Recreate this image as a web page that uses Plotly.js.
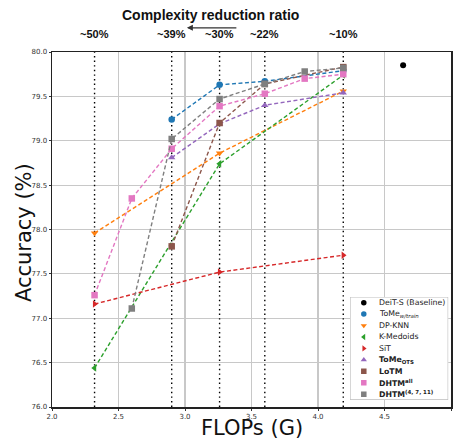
<!DOCTYPE html>
<html>
<head>
<meta charset="utf-8">
<script src="https://cdn.plot.ly/plotly-3.0.1.min.js"></script>
<style>html,body{margin:0;padding:0;background:#fff;}#chart{width:454px;height:439px;}</style>
</head>
<body>
<div id="chart"></div>
<script>
// ---- data ----
const ratioFlops = [2.32, 2.90, 3.26, 3.60, 4.19];
const ratioLabels = ['~50%', '~39%', '~30%', '~22%', '~10%'];

const deitX = [4.64];
const deitY = [79.85];

const tomeTrainX = [2.90, 3.26, 3.60, 4.19];
const tomeTrainY = [79.24, 79.63, 79.67, 79.79];

const dpknnX = [2.32, 3.26, 4.19];
const dpknnY = [77.96, 78.86, 79.56];

const kmedX = [2.32, 3.26, 4.19];
const kmedY = [76.44, 78.74, 79.74];

const sitX = [2.32, 3.26, 4.19];
const sitY = [77.16, 77.52, 77.71];

const tomeOtsX = [2.90, 3.26, 3.60, 4.19];
const tomeOtsY = [78.81, 79.19, 79.40, 79.54];

const lotmX = [2.90, 3.26, 3.60, 4.19];
const lotmY = [77.81, 79.20, 79.64, 79.83];

const dhtmAllX = [2.32, 2.60, 2.90, 3.26, 3.60, 3.90, 4.19];
const dhtmAllY = [77.26, 78.35, 78.91, 79.39, 79.53, 79.70, 79.75];

const dhtmSubX = [2.60, 2.90, 3.26, 3.60, 3.90, 4.19];
const dhtmSubY = [77.11, 79.02, 79.47, 79.64, 79.78, 79.82];

const seriesNames = ['DeiT-S (Baseline)', 'ToMe<sub><i>w/train</i></sub>', 'DP-KNN', 'K-Medoids', 'SiT',
  '<b>ToMe<sub>OTS</sub></b>', '<b>LoTM</b>', '<b>DHTM<sup>all</sup></b>', '<b>DHTM<sup>(4, 7, 11)</sup></b>'];

// ---- styles ----
const colors = ['#000000', '#1f77b4', '#ff7f0e', '#2ca02c', '#d62728', '#9467bd', '#8c564b', '#e377c2', '#7f7f7f'];
const symbols = ['circle', 'circle', 'triangle-down', 'triangle-left', 'triangle-right', 'triangle-up', 'square', 'square', 'square'];
const xs = [deitX, tomeTrainX, dpknnX, kmedX, sitX, tomeOtsX, lotmX, dhtmAllX, dhtmSubX];
const ys = [deitY, tomeTrainY, dpknnY, kmedY, sitY, tomeOtsY, lotmY, dhtmAllY, dhtmSubY];

const traces = [];
// dotted vertical reference lines
ratioFlops.forEach(f => {
  traces.push({x: [f, f], y: [76, 80], mode: 'lines', showlegend: false, hoverinfo: 'skip',
    line: {color: '#000', width: 1.4, dash: '1.4px,3.2px'}});
});
// data series
for (let i = 0; i < xs.length; i++) {
  traces.push({
    x: xs[i], y: ys[i],
    mode: i === 0 ? 'markers' : 'lines+markers',
    showlegend: false,
    line: {color: colors[i], width: 1.4, dash: '4px,2.5px'},
    marker: {color: colors[i], symbol: symbols[i], size: i === 0 ? 6 : 6.5}
  });
}

// custom compact legend on its own small axes (row index = series index)
const legendRows = seriesNames.map((_, i) => i);
traces.push({
  x: legendRows.map(() => 0.14), y: legendRows, xaxis: 'x2', yaxis: 'y2',
  mode: 'markers', showlegend: false, hoverinfo: 'skip',
  marker: {color: colors, symbol: symbols, size: 5.5}
});

const annotations = [];
ratioFlops.forEach((f, i) => {
  annotations.push({x: f, xref: 'x', y: 1.028, yref: 'paper', text: '<b>' + ratioLabels[i] + '</b>',
    showarrow: false, yanchor: 'bottom', font: {family: 'Liberation Sans, Arial, sans-serif', size: 11, color: '#111'}});
});
annotations.push({x: 0.396, xref: 'paper', y: 1.105, yref: 'paper', text: '<b>Complexity reduction ratio</b>',
  showarrow: false, yanchor: 'middle', font: {family: 'Liberation Sans, Arial, sans-serif', size: 14, color: '#111'}});
annotations.push({x: 0.338, xref: 'paper', y: 1.068, yref: 'paper', text: '', showarrow: true,
  ax: 51, ay: 0, arrowhead: 2, arrowsize: 1, arrowwidth: 1.2, arrowcolor: '#333'});
// axis titles placed as annotations
annotations.push({x: -0.07, xref: 'paper', y: 0.49, yref: 'paper', text: 'Accuracy (%)', textangle: -90,
  showarrow: false, xanchor: 'center', yanchor: 'middle', font: {size: 21, color: '#111'}});
annotations.push({x: 0.5, xref: 'paper', y: -0.059, yref: 'paper', text: 'FLOPs (G)',
  showarrow: false, xanchor: 'center', yanchor: 'middle', font: {size: 21, color: '#111'}});
seriesNames.forEach((n, i) => {
  annotations.push({x: 0.27, xref: 'x2', y: legendRows[i], yref: 'y2', text: n, showarrow: false,
    xanchor: 'left', yanchor: 'middle', font: {size: 7.8, color: '#222'}});
});

const layout = {
  width: 454, height: 439,
  margin: {l: 52, r: 3, t: 52, b: 32},
  paper_bgcolor: '#fff', plot_bgcolor: '#fff',
  font: {family: 'DejaVu Sans, sans-serif', color: '#333'},
  showlegend: false,
  xaxis: {range: [2, 5], dtick: 0.5, tick0: 2, tickformat: '.1f', showgrid: true, gridcolor: '#c8c8c8', gridwidth: 1.2,
    zeroline: false, showline: true, linecolor: '#222', linewidth: 1.5, mirror: true,
    ticks: 'outside', ticklen: 2, tickcolor: '#333', tickfont: {size: 7, color: '#333'}},
  yaxis: {range: [76, 80], dtick: 0.5, tick0: 76, tickformat: '.1f', showgrid: true, gridcolor: '#c8c8c8', gridwidth: 1.2,
    zeroline: false, showline: true, linecolor: '#222', linewidth: 1.5, mirror: true,
    ticks: 'outside', ticklen: 2, tickcolor: '#333', tickfont: {size: 7, color: '#333'}},
  xaxis2: {domain: [0.747, 0.993], range: [0, 1], visible: false, fixedrange: true, anchor: 'y2'},
  yaxis2: {domain: [0.02, 0.31], range: [8.5, -0.5], visible: false, fixedrange: true, anchor: 'x2'},
  shapes: [{type: 'rect', xref: 'x2', yref: 'y2', x0: 0, x1: 1, y0: -0.5, y1: 8.5, layer: 'below',
    fillcolor: '#fff', line: {color: '#bdbdbd', width: 1.2}}],
  annotations: annotations
};

Plotly.newPlot('chart', traces, layout, {staticPlot: true});
</script>
</body>
</html>
